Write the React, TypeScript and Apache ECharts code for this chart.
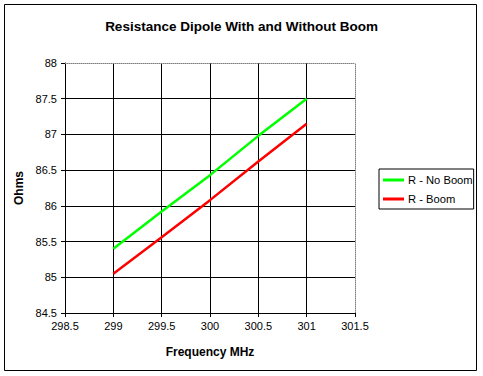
import React, { useEffect, useRef } from "react";
import * as echarts from "echarts";

const FONT = "'Liberation Sans', Arial, sans-serif";

const frequency = [299, 299.5, 300, 300.5, 301];
const rNoBoom = [85.4, 85.92, 86.43, 86.98, 87.5];
const rBoom = [85.05, 85.56, 86.08, 86.62, 87.15];

const seriesNames = ["R - No Boom", "R - Boom"];
const titleText = "Resistance Dipole With and Without Boom";
const xAxisName = "Frequency MHz";
const yAxisName = "Ohms";

export default function App() {
  const ref = useRef<HTMLDivElement>(null);
  useEffect(() => {
    if (!ref.current) return;
    const chart = echarts.init(ref.current, undefined, { renderer: "svg" });
    const pairs = (ys: number[]) => frequency.map((x, i) => [x, ys[i]]);
    chart.setOption({
      animation: false,
      backgroundColor: "#ffffff",
      textStyle: { fontFamily: FONT },
      title: {
        text: titleText,
        left: "center",
        top: 14,
        textStyle: { fontFamily: FONT, fontSize: 13.5, fontWeight: "bold", color: "#000" },
      },
      graphic: [
        {
          type: "rect",
          shape: { x: 4.5, y: 4.5, width: 472, height: 366 },
          style: { fill: "none", stroke: "#000", lineWidth: 1 },
          silent: true,
        },
      ],
      legend: {
        orient: "vertical",
        left: 379,
        top: 169,
        padding: [4, 1, 3, 4],
        itemGap: 5,
        itemWidth: 21,
        itemHeight: 3,
        borderColor: "#000",
        borderWidth: 1,
        icon: "rect",
        data: seriesNames,
        textStyle: { fontFamily: FONT, fontSize: 11.2, color: "#000", lineHeight: 14, padding: [0, 0, 0, -1] },
      },
      grid: { left: 65, top: 63, right: 128, bottom: 63 },
      xAxis: [
        {
          type: "value",
          min: 298.5,
          max: 301.5,
          interval: 0.5,
          name: xAxisName,
          nameLocation: "middle",
          nameGap: 33,
          nameTextStyle: { fontFamily: FONT, fontSize: 12, fontWeight: "bold", color: "#000" },
          axisLine: { show: true, onZero: false, lineStyle: { color: "#000", width: 1 } },
          axisTick: { show: true, length: 4, lineStyle: { color: "#000" } },
          axisLabel: {
            margin: 7,
            fontFamily: FONT,
            fontSize: 11,
            color: "#000",
            formatter: (v: number) => String(v),
          },
          splitLine: { show: true, showMinLine: false, showMaxLine: false, lineStyle: { color: "#000", width: 1 } },
        },
        {
          type: "value",
          position: "top",
          min: 298.5,
          max: 301.5,
          axisLine: { show: true, onZero: false, lineStyle: { color: "#808080", width: 1, type: [1, 1] } },
          axisTick: { show: false },
          axisLabel: { show: false },
          splitLine: { show: false },
        },
      ],
      yAxis: [
        {
          type: "value",
          min: 84.5,
          max: 88,
          interval: 0.5,
          name: yAxisName,
          nameLocation: "middle",
          nameGap: 33,
          nameRotate: 90,
          nameTextStyle: { fontFamily: FONT, fontSize: 12, fontWeight: "bold", color: "#000" },
          axisLine: { show: true, onZero: false, lineStyle: { color: "#000", width: 1 } },
          axisTick: { show: true, length: 4, lineStyle: { color: "#000" } },
          axisLabel: {
            margin: 8,
            fontFamily: FONT,
            fontSize: 11,
            color: "#000",
            formatter: (v: number) => String(v),
          },
          splitLine: { show: true, showMinLine: false, showMaxLine: false, lineStyle: { color: "#000", width: 1 } },
        },
        {
          type: "value",
          position: "right",
          min: 84.5,
          max: 88,
          axisLine: { show: true, onZero: false, lineStyle: { color: "#808080", width: 1, type: [1, 1] } },
          axisTick: { show: false },
          axisLabel: { show: false },
          splitLine: { show: false },
        },
      ],
      series: [
        {
          name: seriesNames[0],
          type: "line",
          data: pairs(rNoBoom),
          showSymbol: false,
          symbol: "none",
          color: "#00ff00",
          lineStyle: { color: "#00ff00", width: 2.5 },
          itemStyle: { color: "#00ff00" },
          z: 3,
        },
        {
          name: seriesNames[1],
          type: "line",
          data: pairs(rBoom),
          showSymbol: false,
          symbol: "none",
          color: "#ff0000",
          lineStyle: { color: "#ff0000", width: 2.5 },
          itemStyle: { color: "#ff0000" },
          z: 3,
        },
      ],
    });
    return () => chart.dispose();
  }, []);
  return (
    <div
      ref={ref}
      style={{ position: "fixed", left: 0, top: 0, width: 483, height: 376 }}
    />
  );
}
